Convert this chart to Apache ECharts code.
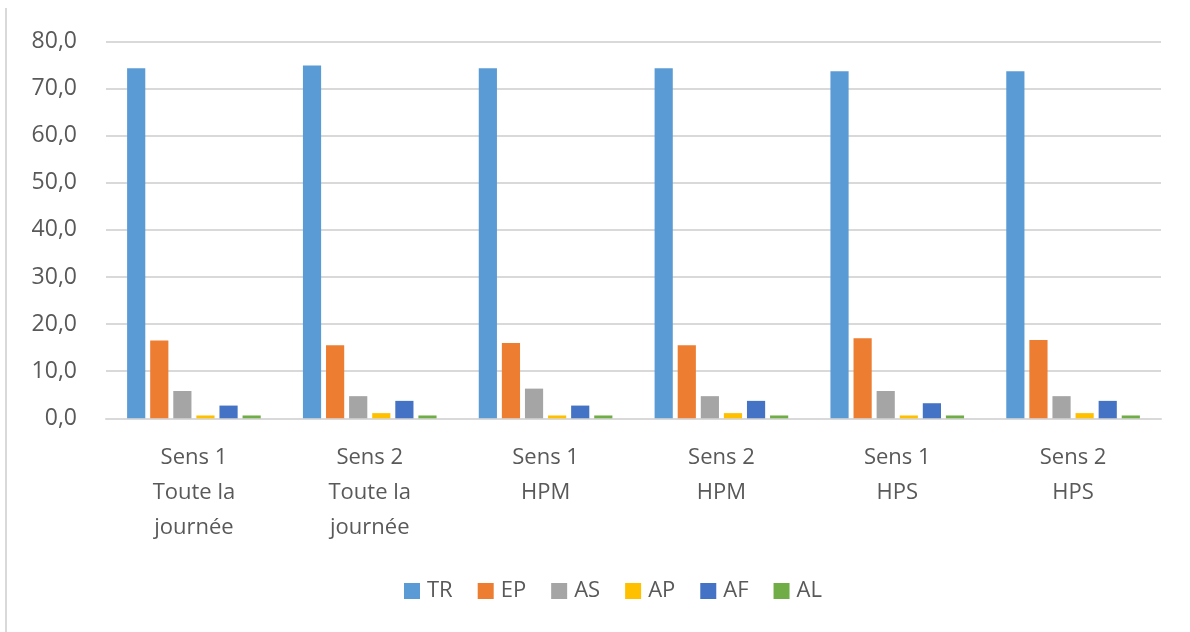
<!DOCTYPE html>
<html>
<head>
<meta charset="utf-8">
<script src="https://cdn.jsdelivr.net/npm/echarts@6/dist/echarts.min.js"></script>
<style>
  html, body { margin: 0; padding: 0; background: #fff; }
  #main { width: 1190px; height: 632px; }
</style>
</head>
<body>
<div id="main"></div>
<script>
// catégories (sens + période)
const categories = [
  'Sens 1\nToute la\njournée',
  'Sens 2\nToute la\njournée',
  'Sens 1\nHPM',
  'Sens 2\nHPM',
  'Sens 1\nHPS',
  'Sens 2\nHPS'
];
const seriesNames = ['TR', 'EP', 'AS', 'AP', 'AF', 'AL'];
const colors = ['#5b9bd5', '#ed7d31', '#a5a5a5', '#ffc000', '#4472c4', '#70ad47'];

const TR = [74.3, 74.9, 74.3, 74.3, 73.7, 73.7];
const EP = [16.5, 15.5, 16.0, 15.5, 17.0, 16.6];
const AS = [5.8, 4.7, 6.3, 4.7, 5.8, 4.7];
const AP = [0.6, 1.1, 0.6, 1.1, 0.6, 1.1];
const AF = [2.7, 3.7, 2.7, 3.7, 3.2, 3.7];
const AL = [0.6, 0.6, 0.6, 0.6, 0.6, 0.6];

const yTicks = { min: 0, max: 80, interval: 10 };

const values = [TR, EP, AS, AP, AF, AL];

const chart = echarts.init(document.getElementById('main'));

const option = {
  backgroundColor: '#fff',
  animation: false,
  textStyle: { fontFamily: 'Open Sans, Liberation Sans, sans-serif' },
  graphic: [{
    type: 'line',
    shape: { x1: 6, y1: 8, x2: 6, y2: 640 },
    style: { stroke: '#d9d9d9', lineWidth: 2 },
    silent: true
  }],
  grid: { left: 106, right: 29, top: 41.5, bottom: 632 - 418.3 },
  legend: {
    bottom: 25,
    left: 399,
    itemWidth: 16,
    itemHeight: 16,
    itemGap: 25,
    icon: 'rect',
    textStyle: { fontSize: 22, color: '#595959', padding: [0, 0, 0, 2] },
    data: seriesNames
  },
  xAxis: {
    type: 'category',
    data: categories,
    axisLine: { lineStyle: { color: '#d9d9d9', width: 2 } },
    axisTick: { show: false },
    axisLabel: { fontSize: 22, color: '#595959', lineHeight: 35, margin: 22 }
  },
  yAxis: {
    type: 'value',
    min: yTicks.min,
    max: yTicks.max,
    interval: yTicks.interval,
    axisLine: { show: false },
    axisTick: { show: false },
    splitLine: { lineStyle: { color: '#d9d9d9', width: 2 } },
    axisLabel: {
      fontSize: 23,
      color: '#595959',
      margin: 29,
      formatter: v => v.toFixed(1).replace('.', ',')
    }
  },
  series: seriesNames.map((name, i) => ({
    name: name,
    type: 'bar',
    data: values[i],
    barGap: '27%',
    barCategoryGap: '24%',
    itemStyle: { color: colors[i] }
  }))
};

chart.setOption(option);
</script>
</body>
</html>
